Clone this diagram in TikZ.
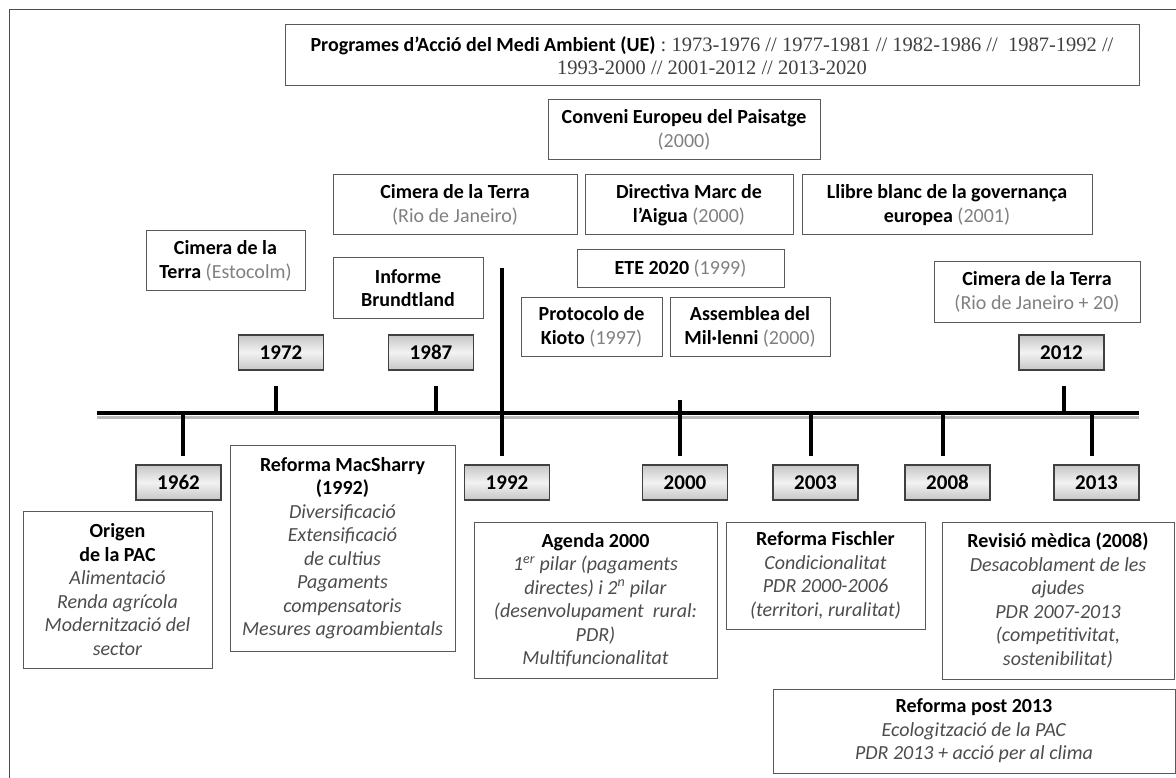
\documentclass[tikz,border=0pt]{standalone}
\usepackage{fontspec}
\setmainfont{Carlito}
\newfontfamily\numfont{Liberation Serif}
\definecolor{boxline}{gray}{0.35}
\definecolor{parengray}{gray}{0.5}
\definecolor{bodygray}{gray}{0.3}
\newcommand{\bdy}[1]{\textcolor{bodygray}{\textit{#1}}}
\newcommand{\pyr}[1]{\textcolor{parengray}{#1}}
\newcommand{\nums}[1]{{\numfont\fontsize{20.5}{23.5}\selectfont\color{black!75}#1}}

\begin{document}
\begin{tikzpicture}[x=1pt, y=-1pt,
	every node/.style={font=\fontsize{20}{23.5}\selectfont},
	evt/.style={draw=boxline, line width=1pt, align=center, inner sep=0pt},
	yearbox/.style={draw=black!75, line width=1.2pt, top color=gray!45, bottom color=gray!45, middle color=gray!10, minimum width=85, minimum height=35, inner sep=0pt, font=\fontsize{21}{23.5}\selectfont\bfseries},
	stem/.style={line width=4pt}]
	\useasboundingbox (0,0) rectangle (1176,778);
	\draw[black!70, line width=1pt] (1176,9.5) -- (9.5,9.5) -- (9.5,778);

	% events above the axis
	\node[evt, minimum width=854, minimum height=61] (pama) at (712,55.5) {\textbf{Programes d’Acció del Medi Ambient (UE)}\nums{\ : 1973-1976 // 1977-1981 // 1982-1986 // \ 1987-1992 //}\\\nums{1993-2000 // 2001-2012 // 2013-2020}};
	\node[evt, minimum width=272, minimum height=60] (paisatge) at (684,130) {\textbf{Conveni Europeu del Paisatge}\\\pyr{(2000)}};
	\node[evt, minimum width=244, minimum height=60] (rio) at (455,205) {\textbf{Cimera de la Terra}\\\pyr{(Rio de Janeiro)}};
	\node[evt, minimum width=208, minimum height=60] (aigua) at (689,205) {\textbf{Directiva Marc de}\\\textbf{l’Aigua} \pyr{(2000)}};
	\node[evt, minimum width=290, minimum height=60] (llibre) at (947,205) {\textbf{Llibre blanc de la governança}\\\textbf{europea} \pyr{(2001)}};
	\node[evt, minimum width=159, minimum height=60] (estocolm) at (225.5,261) {\textbf{Cimera de la}\\\textbf{Terra} \pyr{(Estocolm)}};
	\node[evt, minimum width=150, minimum height=60] (brundtland) at (408,288) {\textbf{Informe}\\\textbf{Brundtland}};
	\node[evt, minimum width=207, minimum height=38] (ete) at (680.5,269) {\textbf{ETE 2020} \pyr{(1999)}};
	\node[evt, minimum width=141, minimum height=58] (kioto) at (591.5,327) {\textbf{Protocolo de}\\\textbf{Kioto} \pyr{(1997)}};
	\node[evt, minimum width=160, minimum height=58] (millenni) at (750,327) {\textbf{Assemblea del}\\\textbf{Mil·lenni} \pyr{(2000)}};
	\node[evt, minimum width=206, minimum height=60] (rio20) at (1037,292) {\textbf{Cimera de la Terra}\\\pyr{(Rio de Janeiro + 20)}};

	\node[yearbox] (y1972) at (281,352.5) {1972};
	\node[yearbox] (y1987) at (431,352.5) {1987};
	\node[yearbox] (y2012) at (1061.5,352.5) {2012};

	% axis
	\coordinate (axL) at (97,413);
	\coordinate (axR) at (1139,413);
	\draw[gray!55, line width=3pt] ([yshift=-4.5pt]axL) -- ([yshift=-4.5pt]axR);
	\draw[line width=4.5pt] (axL) -- (axR);

	\node[yearbox] (y1962) at (178.5,482.5) {1962};
	\node[yearbox] (y1992) at (507,482.5) {1992};
	\node[yearbox] (y2000) at (685,482.5) {2000};
	\node[yearbox] (y2003) at (815.5,482.5) {2003};
	\node[yearbox] (y2008) at (947.5,482.5) {2008};
	\node[yearbox] (y2013) at (1096.5,482.5) {2013};

	\coordinate (t1962) at (183,413);
	\coordinate (t1972) at (276,413);
	\coordinate (t1987) at (436,413);
	\coordinate (t1992) at (502,268);
	\coordinate (t2000) at (680,400);
	\coordinate (t2003) at (811,413);
	\coordinate (t2008) at (943,413);
	\coordinate (t2012) at (1064,413);
	\coordinate (t2013) at (1092,413);

	\draw[stem, shorten >=15pt] (t1972) -- (t1972 |- y1972.south);
	\draw[stem, shorten >=15pt] (t1987) -- (t1987 |- y1987.south);
	\draw[stem, shorten >=15pt] (t2012) -- (t2012 |- y2012.south);
	\foreach \yy in {1962,1992,2000,2003,2008,2013}
		\draw[stem, shorten >=8pt] (t\yy) -- (t\yy |- y\yy.north);

	% the PAC below the axis
	\node[evt, minimum width=189, minimum height=157] (origen) at (117.5,589.5) {\textbf{Origen}\\\textbf{de la PAC}\\\bdy{Alimentació}\\\bdy{Renda agrícola}\\\bdy{Modernització del}\\\bdy{sector}};
	\node[evt, minimum width=225, minimum height=206] (macsharry) at (342.5,548) {\textbf{Reforma MacSharry}\\\textbf{(1992)}\\\bdy{Diversificació}\\\bdy{Extensificació}\\\bdy{de cultius}\\\bdy{Pagaments}\\\bdy{compensatoris}\\\bdy{Mesures agroambientals}};
	\node[evt, minimum width=243, minimum height=156] (agenda) at (595.5,600) {\textbf{Agenda 2000}\\\bdy{1\textsuperscript{er} pilar (pagaments}\\\bdy{directes) i 2\textsuperscript{n} pilar}\\\bdy{(desenvolupament \ rural:}\\\bdy{PDR)}\\\bdy{Multifuncionalitat}};
	\node[evt, minimum width=199, minimum height=107] (fischler) at (825.5,575.5) {\textbf{Reforma Fischler}\\\bdy{Condicionalitat}\\\bdy{PDR 2000-2006}\\\bdy{(territori, ruralitat)}};
	\node[evt, minimum width=232, minimum height=157] (revisio) at (1058,600.5) {\textbf{Revisió mèdica (2008)}\\\bdy{Desacoblament de les}\\\bdy{ajudes}\\\bdy{PDR 2007-2013}\\\bdy{(competitivitat,}\\\bdy{sostenibilitat)}};
	\node[evt, minimum width=402, minimum height=84] (post) at (974,731) {\textbf{Reforma post 2013}\\\bdy{Ecologització de la PAC}\\\bdy{PDR 2013 + acció per al clima}};
\end{tikzpicture}
\end{document}
